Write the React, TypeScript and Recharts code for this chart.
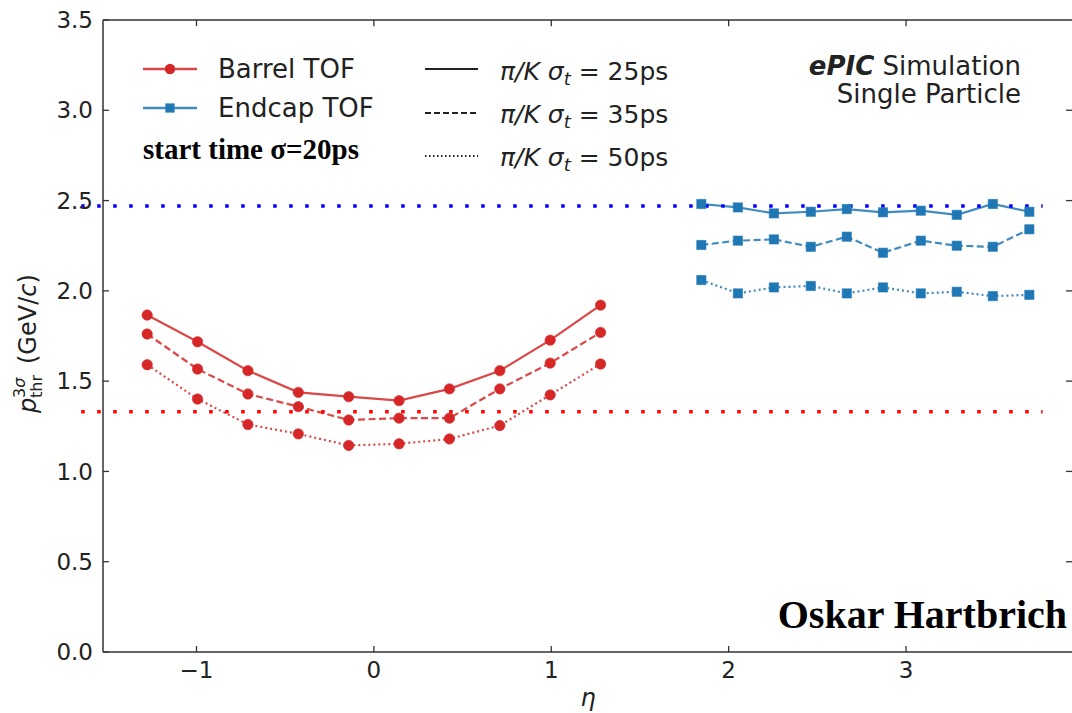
import * as React from 'react';
import { LineChart, Line, XAxis, YAxis, ReferenceLine } from 'recharts';

// eta bin centres
const barrelEta = [-1.278, -0.994, -0.71, -0.426, -0.142, 0.142, 0.426, 0.71, 0.994, 1.278];
const endcapEta = [1.846, 2.052, 2.255, 2.463, 2.666, 2.87, 3.083, 3.286, 3.489, 3.695];

// 3 sigma pi/K threshold momentum (GeV/c)
const barrel25 = [1.866, 1.718, 1.558, 1.438, 1.414, 1.392, 1.457, 1.558, 1.727, 1.921];
const barrel35 = [1.761, 1.567, 1.429, 1.359, 1.285, 1.295, 1.295, 1.457, 1.6, 1.77];
const barrel50 = [1.591, 1.401, 1.26, 1.208, 1.144, 1.153, 1.18, 1.254, 1.424, 1.595];
const endcap25 = [2.481, 2.462, 2.429, 2.438, 2.453, 2.435, 2.444, 2.421, 2.481, 2.438];
const endcap35 = [2.254, 2.278, 2.285, 2.244, 2.3, 2.211, 2.278, 2.25, 2.244, 2.341];
const endcap50 = [2.06, 1.986, 2.019, 2.027, 1.986, 2.019, 1.986, 1.995, 1.971, 1.978];

const xTicks = [-1, 0, 1, 2, 3];
const yTicks = [0, 0.5, 1, 1.5, 2, 2.5, 3, 3.5];
const xDomain = [-1.527, 3.944];
const yDomain = [0, 3.5];
// frame lines run off the right edge of the picture
const frameEnd = 4.1;

// horizontal limit lines
const barrelLimit = 1.33;
const endcapLimit = 2.47;
const limitRange = [-1.65, 3.77];

const RED = '#d62728';
const BLUE = '#1f77b4';
const INK = '#222';
const FRAME = '#333';
const FONT = '"DejaVu Sans", sans-serif';
const SERIF = '"Liberation Serif", "Times New Roman", serif';

const zip = (xs: number[], ys: number[]) => xs.map((eta, i) => ({ eta, p: ys[i] }));

const CircleDot = (props: any) => {
    const { cx, cy, index } = props;
    if (cx == null || cy == null) return null;
    return <circle key={'c' + index} cx={cx} cy={cy} r={5.2} fill={RED} stroke={RED} strokeWidth={1} strokeOpacity={0.6} />;
};

const SquareDot = (props: any) => {
    const { cx, cy, index } = props;
    if (cx == null || cy == null) return null;
    return <rect key={'s' + index} x={cx - 4.6} y={cy - 4.6} width={9.2} height={9.2} fill={BLUE} stroke={BLUE} strokeWidth={1} strokeOpacity={0.6} />;
};

const series = [
    { key: 'b25', data: zip(barrelEta, barrel25), color: RED, dash: undefined, dot: CircleDot },
    { key: 'b35', data: zip(barrelEta, barrel35), color: RED, dash: '7 3.5', dot: CircleDot },
    { key: 'b50', data: zip(barrelEta, barrel50), color: RED, dash: '2 3', dot: CircleDot },
    { key: 'e25', data: zip(endcapEta, endcap25), color: BLUE, dash: undefined, dot: SquareDot },
    { key: 'e35', data: zip(endcapEta, endcap35), color: BLUE, dash: '7 3.5', dot: SquareDot },
    { key: 'e50', data: zip(endcapEta, endcap50), color: BLUE, dash: '2 3', dot: SquareDot },
];

const tickStyle = { fontSize: 23, fill: INK, fontFamily: FONT };
const tickLine = { stroke: FRAME, strokeWidth: 1.3 };
const fmt = (v: number) => (v < 0 ? '\u2212' + Math.abs(v) : String(v));

const sigmaRows = [
    { label: '25ps', dash: undefined, y: 69, base: 80 },
    { label: '35ps', dash: '6 3', y: 113, base: 123 },
    { label: '50ps', dash: '1.5 2.5', y: 156, base: 166 },
];

const Overlay = () => (
    <svg width={1072} height={713} style={{ position: 'absolute', left: 0, top: 0, pointerEvents: 'none' }}>
        {/* detector legend */}
        <line x1={143} x2={197} y1={69} y2={69} stroke={RED} strokeWidth={2.5} strokeOpacity={0.85} />
        <circle cx={170} cy={69} r={5.2} fill={RED} />
        <text x={218} y={78} fontSize={26} fill={INK} fontFamily={FONT}>Barrel TOF</text>
        <line x1={143} x2={197} y1={108} y2={108} stroke={BLUE} strokeWidth={2.5} strokeOpacity={0.85} />
        <rect x={165.4} y={103.4} width={9.2} height={9.2} fill={BLUE} />
        <text x={218} y={117} fontSize={26} fill={INK} fontFamily={FONT}>Endcap TOF</text>
        <text x={143} y={159} fontSize={29} fontWeight="bold" fill="#000" fontFamily={SERIF}>start time σ=20ps</text>

        {/* resolution legend */}
        {sigmaRows.map((r) => (
            <g key={r.label}>
                <line x1={425} x2={478} y1={r.y} y2={r.y} stroke={INK} strokeWidth={2} strokeDasharray={r.dash} />
                <text x={500} y={r.base} fontSize={25} fill={INK} fontFamily={FONT}>
                    <tspan fontStyle="italic">π/K σ</tspan>
                    <tspan fontStyle="italic" fontSize={18} dy={5}>t</tspan>
                    <tspan dy={-5}> = {r.label}</tspan>
                </text>
            </g>
        ))}

        <text x={1021} y={75} textAnchor="end" fontSize={26} fill={INK} fontFamily={FONT}>
            <tspan fontWeight="bold" fontStyle="italic">ePIC</tspan> Simulation
        </text>
        <text x={1021} y={103} textAnchor="end" fontSize={26} fill={INK} fontFamily={FONT}>Single Particle</text>

        <text x={1067} y={628} textAnchor="end" fontSize={40} fontWeight="bold" fill="#000" fontFamily={SERIF}>Oskar Hartbrich</text>

        {/* axis titles */}
        <text x={588} y={706} textAnchor="middle" fontSize={24} fontStyle="italic" fill={INK} fontFamily={FONT}>η</text>
        <g transform="translate(36,338) rotate(-90)">
            <text x={-75} y={0} fontSize={24} fill={INK} fontFamily={FONT} fontStyle="italic">p</text>
            <text x={-60} y={-11} fontSize={16} fill={INK} fontFamily={FONT}>3<tspan fontStyle="italic">σ</tspan></text>
            <text x={-60} y={6} fontSize={16} fill={INK} fontFamily={FONT}>thr</text>
            <text x={-26} y={0} fontSize={24} fill={INK} fontFamily={FONT}>
                (GeV/<tspan fontStyle="italic">c</tspan>)
            </text>
        </g>
    </svg>
);

// inward tick lengths in data units (about 6-7 px)
const topTickLen = 0.034;
const rightTickLen = 0.042;

const App: React.FC = () => {
    return (
        <div style={{ position: 'absolute', left: 0, top: 0, width: 1072, height: 713, overflow: 'hidden', background: '#fff' }}>
            <LineChart width={1073.5} height={713} margin={{ top: 20, right: 0, bottom: 0, left: 0 }}>
                <XAxis
                    type="number"
                    dataKey="eta"
                    domain={xDomain}
                    ticks={xTicks}
                    tickFormatter={fmt}
                    height={61}
                    tickSize={-6}
                    tickMargin={16}
                    tick={tickStyle}
                    axisLine={false}
                    tickLine={tickLine}
                    allowDataOverflow
                />
                <YAxis
                    type="number"
                    domain={yDomain}
                    ticks={yTicks}
                    tickFormatter={(v: number) => v.toFixed(1)}
                    width={103}
                    tickSize={-6}
                    tickMargin={16}
                    tick={tickStyle}
                    axisLine={false}
                    tickLine={tickLine}
                    allowDataOverflow
                />
                {/* frame: left, bottom and top edges, top and right ticks */}
                <ReferenceLine
                    segment={[{ x: xDomain[0], y: yDomain[0] }, { x: xDomain[0], y: yDomain[1] }]}
                    stroke={FRAME}
                    strokeWidth={1.5}
                    ifOverflow="visible"
                />
                <ReferenceLine
                    segment={[{ x: xDomain[0], y: yDomain[0] }, { x: frameEnd, y: yDomain[0] }]}
                    stroke={FRAME}
                    strokeWidth={1.5}
                    ifOverflow="visible"
                />
                <ReferenceLine
                    segment={[{ x: xDomain[0], y: yDomain[1] }, { x: frameEnd, y: yDomain[1] }]}
                    stroke={FRAME}
                    strokeWidth={1.5}
                    ifOverflow="visible"
                />
                {xTicks.map((t) => (
                    <ReferenceLine
                        key={'tt' + t}
                        segment={[{ x: t, y: yDomain[1] }, { x: t, y: yDomain[1] - topTickLen }]}
                        stroke={FRAME}
                        strokeWidth={1.3}
                        ifOverflow="visible"
                    />
                ))}
                {yTicks.slice(1, -1).map((v) => (
                    <ReferenceLine
                        key={'rt' + v}
                        segment={[{ x: xDomain[1] - rightTickLen, y: v }, { x: xDomain[1], y: v }]}
                        stroke={FRAME}
                        strokeWidth={1.3}
                        ifOverflow="visible"
                    />
                ))}
                {series.map((s) => (
                    <Line
                        key={s.key}
                        data={s.data}
                        dataKey="p"
                        type="linear"
                        stroke={s.color}
                        strokeOpacity={0.85}
                        strokeWidth={2.2}
                        strokeDasharray={s.dash}
                        dot={s.dot}
                        activeDot={false}
                        isAnimationActive={false}
                    />
                ))}
                <ReferenceLine
                    segment={[{ x: limitRange[0], y: barrelLimit }, { x: limitRange[1], y: barrelLimit }]}
                    ifOverflow="visible"
                    stroke="#ff0000"
                    strokeWidth={3.5}
                    strokeDasharray="3.5 12.5"
                />
                <ReferenceLine
                    segment={[{ x: limitRange[0], y: endcapLimit }, { x: limitRange[1], y: endcapLimit }]}
                    ifOverflow="visible"
                    stroke="#0000ff"
                    strokeWidth={3.5}
                    strokeDasharray="3.5 12.5"
                />
            </LineChart>
            <Overlay />
        </div>
    );
};

export default App;
